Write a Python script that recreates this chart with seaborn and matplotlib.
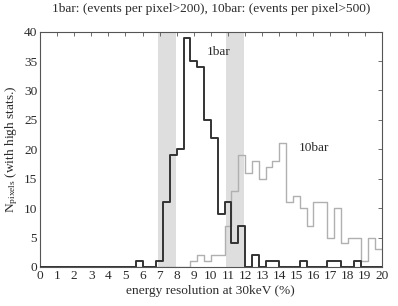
import numpy as np
import pandas as pd
import matplotlib
matplotlib.use("Agg")
import matplotlib.pyplot as plt
import seaborn as sns

# bin edges 0..20 in steps of 0.4 (50 bins)
bin_edges = [round(0.4 * i, 2) for i in range(51)]
bin_centers = [round(0.4 * i + 0.2, 2) for i in range(50)]

# counts, one per bin
counts_1bar = [0, 0, 0, 0, 0, 0, 0, 0, 0, 0,
               0, 0, 0, 0, 1, 0, 0, 1, 11, 19,
               20, 39, 35, 34, 25, 22, 9, 11, 4, 7,
               0, 2, 0, 1, 1, 0, 0, 0, 1, 0,
               0, 0, 1, 1, 0, 0, 1, 0, 0, 0]
counts_10bar = [0, 0, 0, 0, 0, 0, 0, 0, 0, 0,
                0, 0, 0, 0, 0, 0, 0, 0, 0, 0,
                0, 0, 1, 2, 1, 2, 2, 7, 13, 19,
                16, 18, 15, 17, 18, 21, 11, 12, 10, 7,
                11, 11, 5, 10, 4, 5, 5, 1, 5, 3]

# shaded energy windows
bands = [(6.9, 7.95), (10.9, 11.95)]

xticks = list(range(0, 21))
yticks = list(range(0, 41, 5))

df1 = pd.DataFrame({"res": bin_centers, "n": counts_1bar})
df10 = pd.DataFrame({"res": bin_centers, "n": counts_10bar})

sns.set_style("white")
plt.rcParams["font.family"] = ["Liberation Serif", "DejaVu Serif"]
plt.rcParams["mathtext.fontset"] = "custom"
plt.rcParams["mathtext.rm"] = "Liberation Serif"
plt.rcParams["mathtext.it"] = "Liberation Serif:italic"

fs = 9.65
txt = "#2a2a2a"

fig = plt.figure(figsize=(3.98, 3.06), dpi=100)
ax = fig.add_axes([0.1005, 0.1275, 0.8585, 0.769])

for lo, hi in bands:
    ax.axvspan(lo, hi, color="#dedede", lw=0, zorder=0)

sns.histplot(data=df10, x="res", weights="n", bins=bin_edges,
             element="step", fill=False, color="#b0b0b0", linewidth=1.0, ax=ax, zorder=2)
sns.histplot(data=df1, x="res", weights="n", bins=bin_edges,
             element="step", fill=False, color="#333333", linewidth=1.4, ax=ax, zorder=3)

ax.text(9.75, 36.5, "1bar", fontsize=fs, va="center", ha="left", color=txt)
ax.text(15.15, 20.2, "10bar", fontsize=fs, va="center", ha="left", color=txt)

ax.set_xlim(0, 20)
ax.set_ylim(0, 40)
ax.set_xticks(xticks)
ax.set_yticks(yticks)
ax.tick_params(direction="in", length=3, width=0.6, colors="#555555",
               labelcolor=txt, labelsize=fs, top=True, right=True, pad=2)
for s in ax.spines.values():
    s.set_color("#555555")
    s.set_linewidth(0.8)

ax.set_xlabel("energy resolution at 30keV (%)", fontsize=fs, color=txt, labelpad=2)
ax.set_ylabel(r"N$_{\mathrm{pixels}}$ (with high stats.)", fontsize=fs, color=txt, labelpad=3)
ax.set_title("1bar: (events per pixel>200), 10bar: (events per pixel>500)",
             fontsize=fs, color=txt, pad=14)

fig.savefig("out.png", dpi=100)
